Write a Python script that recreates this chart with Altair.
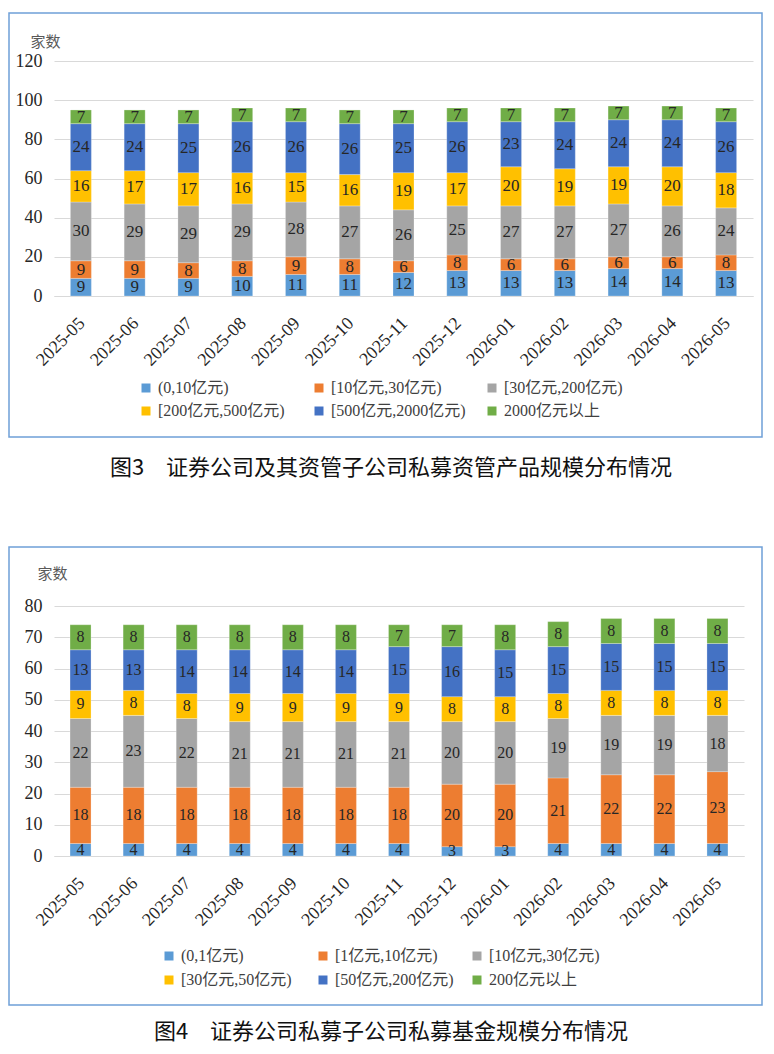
import altair as alt
import pandas as pd

months = ["2025-05", "2025-06", "2025-07", "2025-08", "2025-09", "2025-10", "2025-11",
          "2025-12", "2026-01", "2026-02", "2026-03", "2026-04", "2026-05"]

colors = ["#5B9BD5", "#ED7D31", "#A5A5A5", "#FFC000", "#4472C4", "#70AD47"]

# Figure 3: asset-management products by size band
f3_series = ["(0,10亿元)", "[10亿元,30亿元)", "[30亿元,200亿元)",
             "[200亿元,500亿元)", "[500亿元,2000亿元)", "2000亿元以上"]
f3_band1 = [9, 9, 9, 10, 11, 11, 12, 13, 13, 13, 14, 14, 13]
f3_band2 = [9, 9, 8, 8, 9, 8, 6, 8, 6, 6, 6, 6, 8]
f3_band3 = [30, 29, 29, 29, 28, 27, 26, 25, 27, 27, 27, 26, 24]
f3_band4 = [16, 17, 17, 16, 15, 16, 19, 17, 20, 19, 19, 20, 18]
f3_band5 = [24, 24, 25, 26, 26, 26, 25, 26, 23, 24, 24, 24, 26]
f3_band6 = [7, 7, 7, 7, 7, 7, 7, 7, 7, 7, 7, 7, 7]
f3_caption = "图3　证券公司及其资管子公司私募资管产品规模分布情况"

# Figure 4: private fund subsidiaries by fund size band
f4_series = ["(0,1亿元)", "[1亿元,10亿元)", "[10亿元,30亿元)",
             "[30亿元,50亿元)", "[50亿元,200亿元)", "200亿元以上"]
f4_band1 = [4, 4, 4, 4, 4, 4, 4, 3, 3, 4, 4, 4, 4]
f4_band2 = [18, 18, 18, 18, 18, 18, 18, 20, 20, 21, 22, 22, 23]
f4_band3 = [22, 23, 22, 21, 21, 21, 21, 20, 20, 19, 19, 19, 18]
f4_band4 = [9, 8, 8, 9, 9, 9, 9, 8, 8, 8, 8, 8, 8]
f4_band5 = [13, 13, 14, 14, 14, 14, 15, 16, 15, 15, 15, 15, 15]
f4_band6 = [8, 8, 8, 8, 8, 8, 7, 7, 8, 8, 8, 8, 8]
f4_caption = "图4　证券公司私募子公司私募基金规模分布情况"

SERIF = "'Times New Roman', 'Liberation Serif', 'Noto Sans CJK SC', serif"
CJK = "'Noto Sans CJK SC', sans-serif"
FRAME = "#6FA0D8"


def long_table(series, bands):
    rows = []
    for k, (name, vals) in enumerate(zip(series, bands)):
        for m, v in zip(months, vals):
            rows.append({"month": m, "series": name, "ord": k, "value": v})
    return pd.DataFrame(rows)


def panel(series, bands, ymax, ystep, width, height, label_size,
          title_xy, legend_xy, legend_pad, col_pad, frame_box, caption, caption_xy):
    df = long_table(series, bands)

    x_enc = alt.X("month:N", sort=months, title=None,
                  scale=alt.Scale(paddingInner=0, paddingOuter=0),
                  axis=alt.Axis(labelAngle=-45, labelFont=SERIF, labelFontSize=18,
                                labelColor="#262626", labelPadding=18, labelOffset=-5,
                                ticks=False, domainColor="#D9D9D9", grid=False))
    y_axis = alt.Axis(values=list(range(0, ymax + 1, ystep)), title="家数",
                      titleAngle=0, titleX=title_xy[0], titleY=title_xy[1],
                      titleAlign="left", titleBaseline="middle", titleFont=CJK,
                      titleFontSize=15, titleFontWeight="normal", titleColor="#595959",
                      domain=False, ticks=False, labelPadding=12, labelFont=SERIF,
                      labelFontSize=18, labelColor="#262626", gridColor="#D9D9D9")

    bars = alt.Chart(df).mark_bar(size=21, stroke="white", strokeWidth=0.5, strokeOpacity=0.5).encode(
        x=x_enc,
        y=alt.Y("value:Q", stack="zero", scale=alt.Scale(domain=[0, ymax]), axis=y_axis),
        color=alt.Color("series:N", sort=series,
                        scale=alt.Scale(domain=series, range=colors),
                        legend=alt.Legend(orient="none", legendX=legend_xy[0],
                                          legendY=legend_xy[1], direction="horizontal",
                                          columns=3, title=None, symbolType="square",
                                          symbolSize=81, symbolStrokeWidth=0,
                                          labelFont=SERIF, labelFontSize=16,
                                          labelColor="#404040", labelOffset=4,
                                          columnPadding=col_pad, rowPadding=legend_pad,
                                          gridAlign="all", labelLimit=300)),
        order=alt.Order("ord:Q", sort="ascending"),
    )

    labels = alt.Chart(df).transform_stack(
        stack="value", groupby=["month"], as_=["y0", "y1"],
        sort=[alt.SortField("ord", order="ascending")]
    ).transform_calculate(
        mid="(datum.y0 + datum.y1) / 2"
    ).mark_text(font=SERIF, fontSize=label_size, color="#262626").encode(
        x=x_enc,
        y=alt.Y("mid:Q", scale=alt.Scale(domain=[0, ymax]), axis=y_axis),
        text="value:Q",
    )

    stub = pd.DataFrame({"k": [0]})
    frame = alt.Chart(stub).mark_rect(fillOpacity=0, stroke=FRAME, strokeWidth=1.5).encode(
        x=alt.value(frame_box[0]), x2=alt.value(frame_box[1]),
        y=alt.value(frame_box[2]), y2=alt.value(frame_box[3]),
    )
    cap = alt.Chart(stub).mark_text(font=CJK, fontSize=22, color="#111111",
                                    baseline="middle", align="center").encode(
        x=alt.value(caption_xy[0]), y=alt.value(caption_xy[1]), text=alt.value(caption),
    )

    return alt.layer(frame, bars, labels, cap).properties(width=width, height=height)


top = panel(f3_series, [f3_band1, f3_band2, f3_band3, f3_band4, f3_band5, f3_band6],
            120, 20, 699, 235, 17,
            title_xy=(-24, -20), legend_xy=(84, 319), legend_pad=7, col_pad=18,
            frame_box=(-45, 708, -48, 376), caption=f3_caption, caption_xy=(337, 407))

bottom = panel(f4_series, [f4_band1, f4_band2, f4_band3, f4_band4, f4_band5, f4_band6],
               80, 10, 690, 250, 16,
               title_xy=(-17, -33), legend_xy=(107, 342), legend_pad=8, col_pad=15,
               frame_box=(-45, 708, -59, 399), caption=f4_caption, caption_xy=(337, 426))

chart = alt.vconcat(top, bottom, spacing=67).resolve_scale(
    color="independent"
).resolve_legend(
    color="independent"
).properties(
    padding={"left": 8, "top": 12, "right": 0, "bottom": 6},
    background="white",
).configure_view(strokeWidth=0)

chart.save("out.html", embed_options={"renderer": "svg", "actions": False})
